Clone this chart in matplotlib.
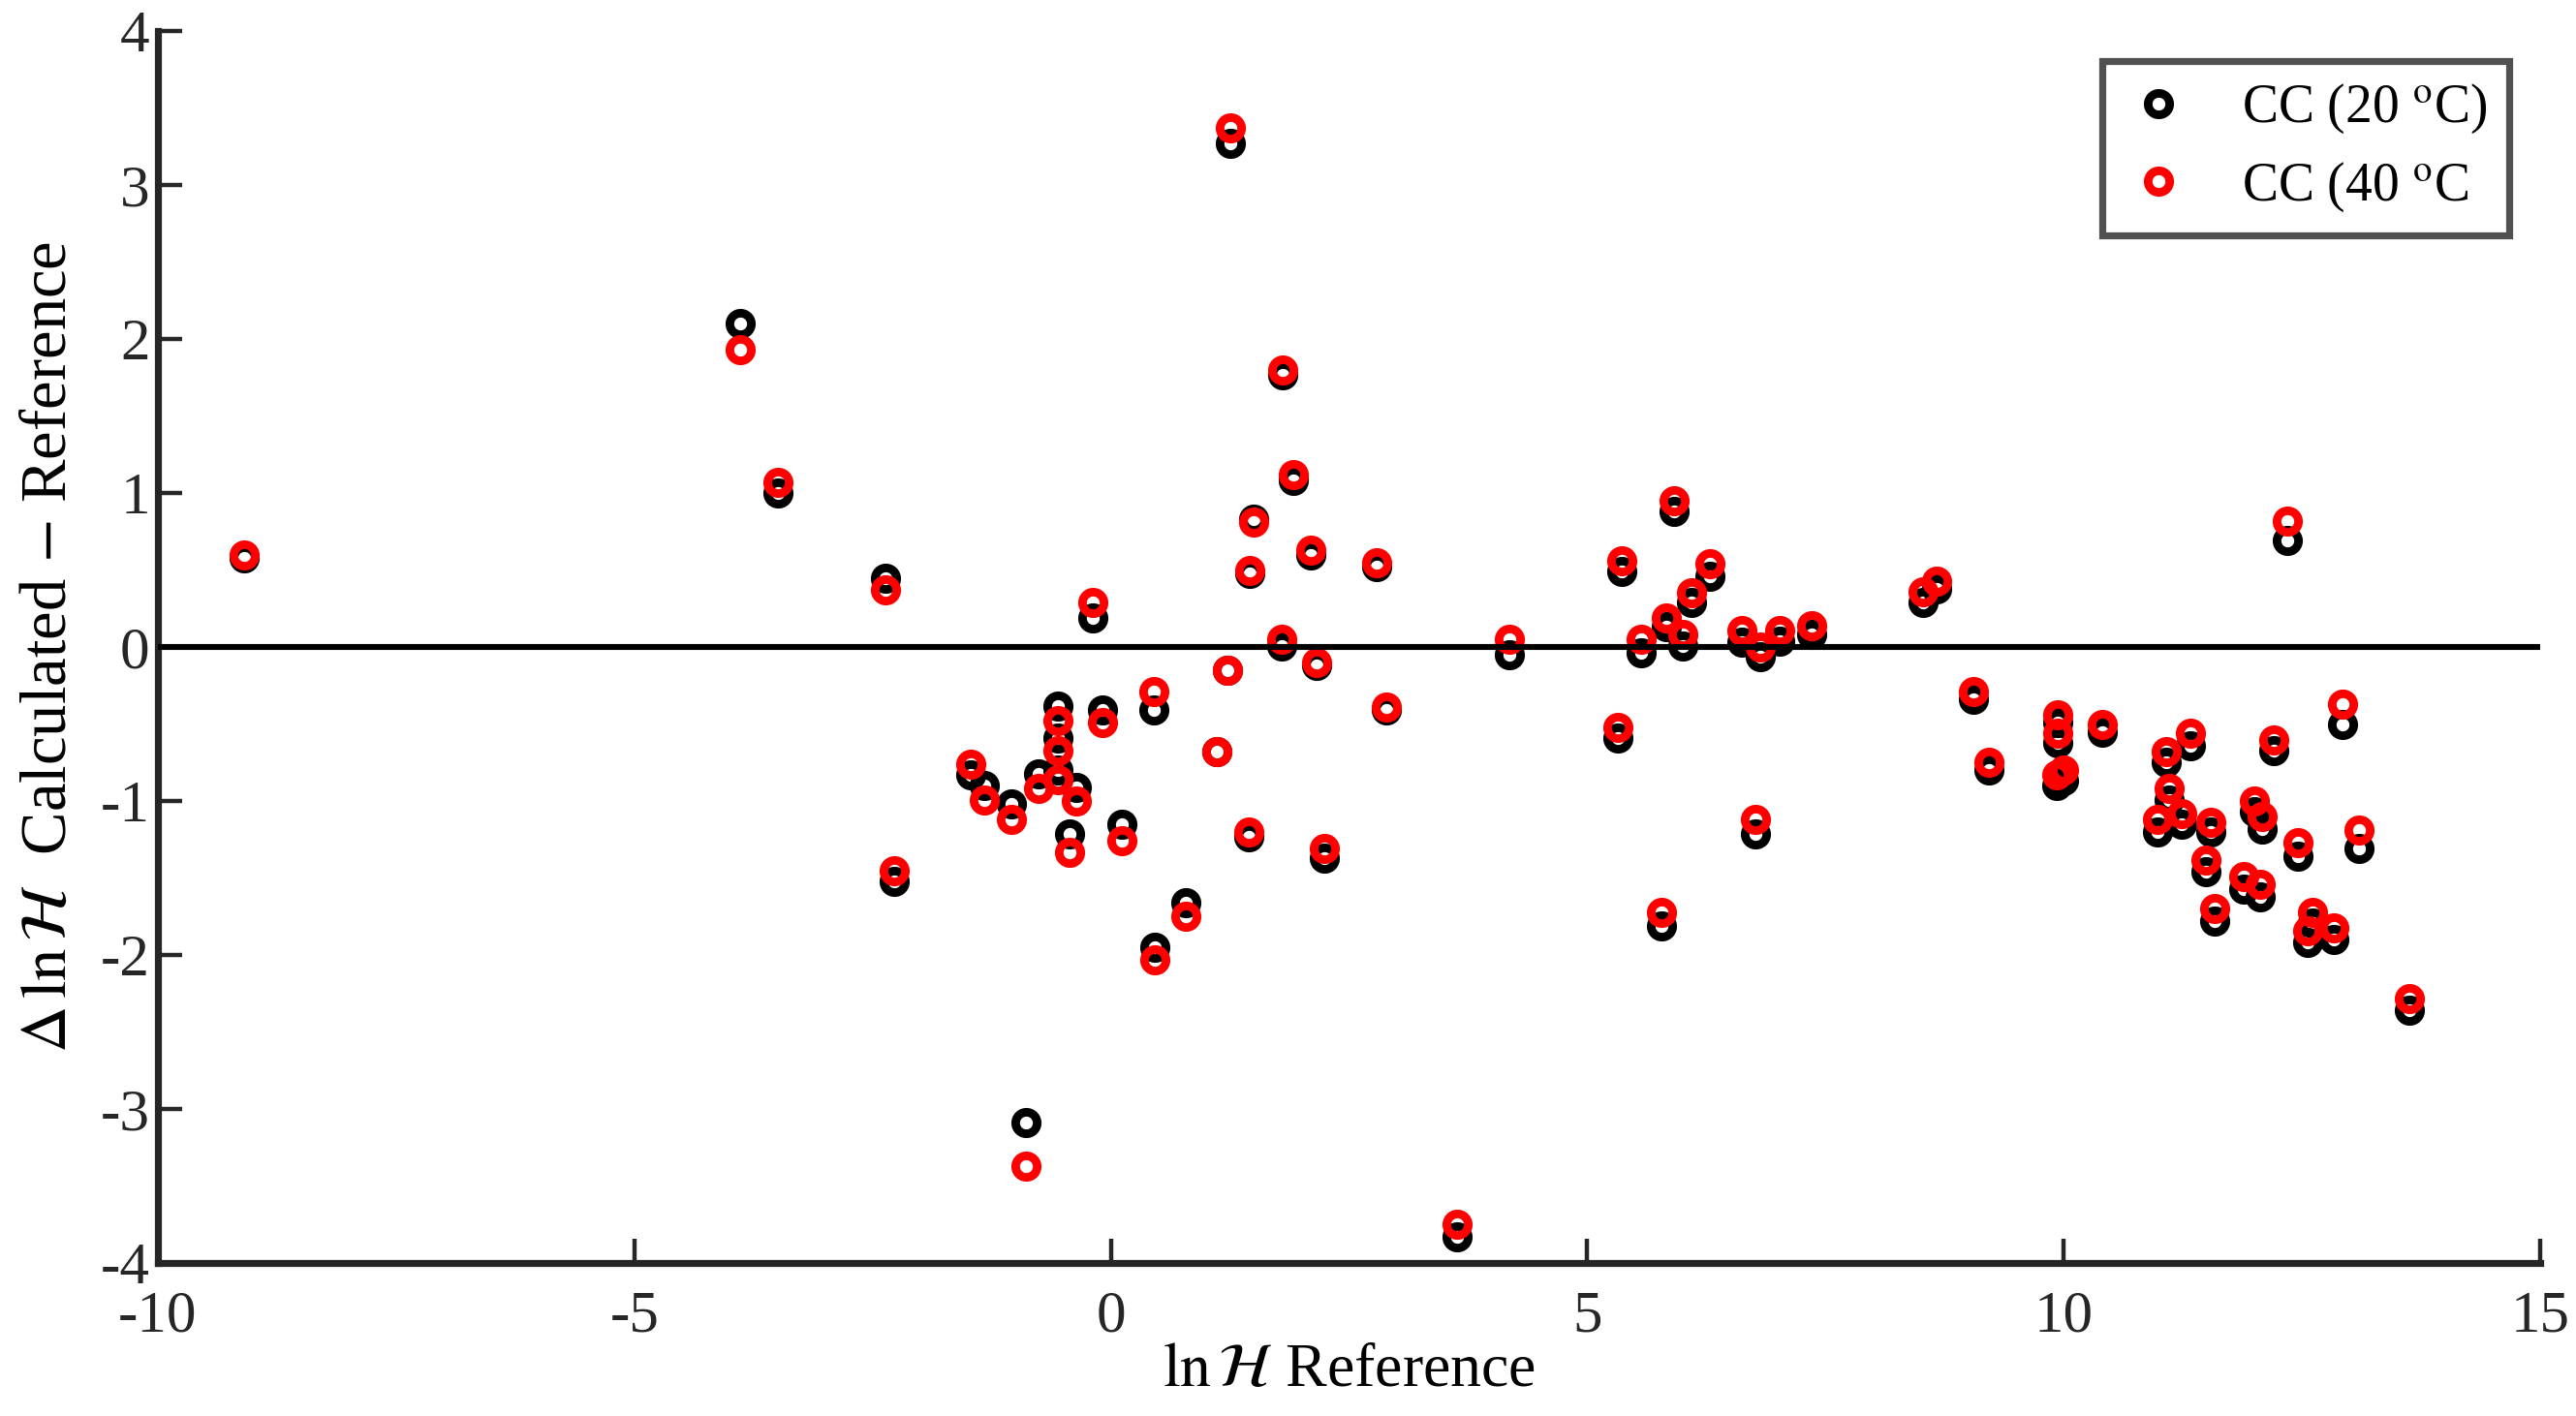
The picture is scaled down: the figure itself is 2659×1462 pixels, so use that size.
import matplotlib
matplotlib.use('Agg')
import matplotlib.pyplot as plt
import numpy as np

plt.rcParams['font.family'] = ['Liberation Serif', 'DejaVu Serif']
plt.rcParams['mathtext.fontset'] = 'stix'
plt.rcParams['axes.unicode_minus'] = False

# ln H reference values
ln_h_ref = [-9.10, -3.89, -3.49, -2.36, -2.27, -1.47, -1.33, -1.04, -0.89, -0.76,
            -0.56, -0.56, -0.56, -0.43, -0.36, -0.19, -0.09, 0.12, 0.45, 0.46,
            0.79, 1.11, 1.22, 1.25, 1.45, 1.46, 1.50, 1.79, 1.80, 1.92,
            2.10, 2.16, 2.24, 2.79, 2.89, 3.63, 4.18, 5.32, 5.36, 5.57,
            5.78, 5.83, 5.91, 6.00, 6.09, 6.29, 6.62, 6.76, 6.82, 7.02,
            7.35, 8.52, 8.67, 9.05, 9.21, 9.94, 9.94, 9.93, 10.00, 10.40,
            10.98, 11.08, 11.11, 11.24, 11.33, 11.49, 11.54, 11.58, 11.89, 12.00,
            12.06, 12.08, 12.20, 12.35, 12.46, 12.56, 12.61, 12.83, 12.93, 13.10,
            13.63]

# calculated - reference, 20 oC
d_cc20 = [0.58, 2.10, 1.00, 0.45, -1.52, -0.83, -0.90, -1.02, -3.09, -0.82,
          -0.38, -0.59, -0.80, -1.21, -0.91, 0.19, -0.41, -1.15, -0.41, -1.95,
          -1.66, -0.68, -0.15, 3.27, -1.23, 0.48, 0.83, 0.01, 1.77, 1.08,
          0.60, -0.12, -1.37, 0.52, -0.41, -3.83, -0.05, -0.59, 0.49, -0.04,
          -1.81, 0.13, 0.88, 0.01, 0.29, 0.46, 0.03, -1.21, -0.06, 0.04,
          0.08, 0.29, 0.38, -0.34, -0.80, -0.49, -0.62, -0.90, -0.87, -0.55,
          -1.20, -0.75, -0.99, -1.15, -0.64, -1.46, -1.20, -1.78, -1.57, -1.07,
          -1.62, -1.18, -0.67, 0.69, -1.36, -1.92, -1.79, -1.90, -0.50, -1.31,
          -2.36]

# calculated - reference, 40 oC
d_cc40 = [0.60, 1.93, 1.07, 0.37, -1.45, -0.76, -0.99, -1.12, -3.37, -0.92,
          -0.48, -0.67, -0.86, -1.33, -1.00, 0.29, -0.49, -1.26, -0.29, -2.03,
          -1.75, -0.68, -0.15, 3.37, -1.20, 0.50, 0.81, 0.05, 1.80, 1.12,
          0.63, -0.10, -1.31, 0.55, -0.39, -3.75, 0.05, -0.52, 0.56, 0.05,
          -1.72, 0.19, 0.95, 0.08, 0.35, 0.54, 0.11, -1.12, 0.00, 0.11,
          0.14, 0.36, 0.43, -0.29, -0.75, -0.44, -0.56, -0.83, -0.80, -0.50,
          -1.12, -0.68, -0.92, -1.08, -0.56, -1.38, -1.14, -1.70, -1.49, -1.00,
          -1.54, -1.10, -0.60, 0.82, -1.27, -1.84, -1.72, -1.82, -0.37, -1.19,
          -2.28]

fig = plt.figure(figsize=(2659 / 200, 1462 / 200), dpi=200)
ax = fig.add_axes([0.0613, 0.108, 0.9248, 0.870])

ax.plot(ln_h_ref, d_cc20, 'o', ls='none', mfc='none', mec='black', ms=8, mew=3.2,
        label=r'CC (20 $^{\rm o}$C)', zorder=3)
ax.plot(ln_h_ref, d_cc40, 'o', ls='none', mfc='none', mec='red', ms=8, mew=3.2,
        label=r'CC (40 $^{\rm o}$C', zorder=4)
ax.plot([-10, 15], [0, 0], color='black', lw=2.2, zorder=5)

ax.set_xlim(-10, 15)
ax.set_ylim(-4, 4)
ax.set_xticks(np.arange(-10, 16, 5))
ax.set_yticks(np.arange(-4, 5, 1))

for s in ['top', 'right']:
    ax.spines[s].set_visible(False)
for s in ['left', 'bottom']:
    ax.spines[s].set_linewidth(2.6)
    ax.spines[s].set_color('#262626')
ax.tick_params(direction='in', length=9, width=1.6, color='#262626',
               labelsize=22, labelcolor='#262626')
ax.tick_params(axis='x', pad=10)
ax.tick_params(axis='y', pad=3)

ax.set_xlabel(r'$\ln\mathcal{H}$ Reference', fontsize=23, labelpad=0)
ax.set_ylabel(r'$\Delta\,\ln\mathcal{H}$  Calculated $-$ Reference', fontsize=24, labelpad=8)

leg = ax.legend(loc='upper right', bbox_to_anchor=(0.987, 0.976), borderaxespad=0,
                fontsize=20, frameon=True, fancybox=False, handletextpad=0.9,
                labelspacing=0.45, borderpad=0.4, handlelength=1.3)
leg.get_frame().set_edgecolor('#262626')
leg.get_frame().set_linewidth(2.6)

fig.savefig('out.png', dpi=200)
